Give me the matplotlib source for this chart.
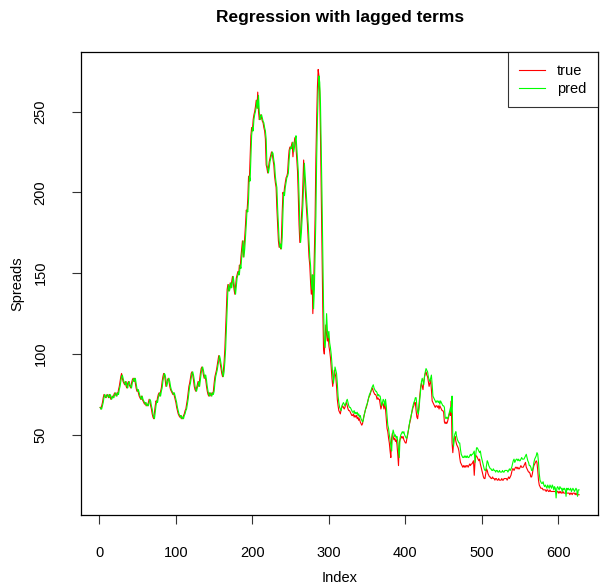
import matplotlib.pyplot as plt
import numpy as np

plt.rcParams['font.family'] = ['Liberation Sans', 'DejaVu Sans']

true = [
    67, 66, 68, 70, 73, 75, 74, 73, 74, 75,
    74, 73, 75, 74, 72, 73, 74, 73, 75, 76,
    75, 74, 76, 75, 78, 80, 83, 86, 88, 85,
    83, 82, 81, 83, 80, 79, 82, 83, 81, 80,
    79, 82, 84, 85, 83, 85, 82, 79, 77, 78,
    76, 74, 73, 72, 74, 72, 71, 70, 69, 70,
    68, 69, 68, 70, 72, 71, 68, 66, 63, 61,
    60, 64, 68, 71, 70, 73, 75, 76, 74, 77,
    79, 83, 86, 88, 87, 84, 80, 82, 84, 85,
    83, 80, 78, 77, 76, 75, 76, 74, 72, 70,
    67, 65, 63, 62, 61, 62, 60, 61, 60, 62,
    63, 65, 66, 69, 72, 76, 80, 82, 85, 88,
    89, 87, 84, 80, 78, 77, 79, 81, 83, 80,
    84, 88, 91, 92, 90, 87, 85, 87, 84, 80,
    77, 75, 74, 76, 75, 74, 76, 75, 77, 82,
    86, 88, 90, 93, 96, 99, 97, 94, 91, 88,
    86, 89, 95, 103, 115, 128, 140, 143, 139, 141,
    144, 141, 145, 148, 144, 140, 137, 142, 147, 149,
    151, 149, 155, 153, 160, 165, 170, 160, 165, 172,
    180, 189, 188, 196, 210, 207, 222, 235, 240, 238,
    245, 248, 250, 253, 257, 252, 262, 250, 245, 247,
    248, 246, 244, 243, 240, 238, 233, 217, 215, 212,
    215, 219, 221, 223, 225, 224, 220, 217, 210, 206,
    203, 190, 180, 170, 166, 168, 165, 172, 188, 200,
    198, 203, 206, 209, 210, 212, 220, 226, 228, 227,
    229, 231, 222, 228, 232, 234, 228, 220, 213, 198,
    180, 169, 175, 184, 192, 205, 220, 210, 202, 195,
    188, 180, 170, 160, 155, 145, 137, 149, 125, 140,
    162, 185, 221, 245, 265, 276, 272, 262, 235, 200,
    160, 129, 103, 100, 110, 118, 112, 108, 113, 105,
    102, 98, 92, 85, 80, 84, 90, 88, 86, 80,
    72, 68, 65, 64, 63, 66, 67, 68, 67, 66,
    67, 69, 70, 68, 66, 65, 65, 64, 63, 62,
    62, 63, 61, 62, 61, 62, 60, 61, 59, 60,
    58, 57, 56, 57, 60, 62, 64, 66, 67, 69,
    71, 73, 74, 75, 77, 78, 79, 77, 76, 75,
    75, 74, 72, 73, 72, 72, 69, 66, 68, 70,
    69, 66, 70, 66, 60, 54, 52, 48, 45, 40,
    36, 48, 51, 49, 47, 48, 46, 47, 44, 38,
    31, 45, 47, 48, 49, 48, 49, 47, 46, 45,
    45, 48, 50, 53, 56, 58, 60, 63, 65, 67,
    68, 70, 70, 65, 61, 60, 64, 70, 75, 80,
    82, 80, 78, 83, 86, 88, 89, 87, 86, 83,
    80, 82, 84, 78, 71, 70, 69, 68, 67, 68,
    68, 67, 68, 66, 68, 67, 66, 65, 65, 64,
    58, 57, 58, 57, 58, 60, 62, 64, 62, 71,
    45, 39, 45, 48, 49, 46, 44, 43, 42, 40,
    36, 33, 32, 31, 30, 31, 30, 31, 30, 31,
    31, 30, 31, 32, 31, 32, 32, 33, 34, 25,
    33, 37, 37, 36, 35, 34, 35, 32, 30, 28,
    26, 24, 23, 23, 26, 29, 28, 26, 25, 24,
    24, 23, 23, 24, 23, 23, 22, 23, 23, 22,
    22, 23, 22, 22, 22, 23, 22, 22, 23, 23,
    23, 23, 22, 23, 24, 23, 24, 25, 27, 29,
    29, 28, 29, 30, 30, 29, 30, 29, 29, 30,
    31, 30, 30, 30, 31, 32, 33, 30, 29, 28,
    27, 27, 26, 24, 24, 26, 29, 31, 32, 33,
    34, 33, 28, 22, 19, 18, 17, 17, 17, 16,
    16, 16, 16, 15, 16, 16, 15, 15, 16, 15,
    15, 15, 15, 15, 15, 15, 14, 15, 15, 14,
    15, 14, 15, 14, 14, 15, 14, 14, 14, 14,
    14, 14, 14, 14, 13, 14, 14, 13, 14, 14,
    14, 13, 14, 13, 13, 13, 13,
]

pred = [
    67, 66, 66, 68, 70, 73, 75, 74, 73, 74,
    75, 74, 73, 75, 74, 72, 73, 74, 73, 75,
    76, 75, 74, 76, 75, 78, 80, 83, 86, 87,
    85, 83, 82, 81, 83, 80, 79, 82, 83, 81,
    80, 79, 82, 84, 85, 83, 85, 82, 79, 77,
    78, 76, 74, 73, 72, 74, 72, 71, 70, 69,
    70, 68, 69, 68, 70, 72, 71, 68, 66, 63,
    61, 60, 64, 68, 71, 70, 73, 75, 76, 74,
    77, 79, 83, 86, 88, 87, 84, 80, 82, 84,
    85, 83, 80, 78, 77, 76, 75, 76, 74, 72,
    70, 67, 65, 63, 62, 61, 62, 60, 61, 60,
    62, 63, 65, 66, 69, 72, 76, 80, 82, 85,
    88, 89, 87, 84, 80, 78, 77, 79, 81, 83,
    80, 84, 88, 91, 92, 90, 87, 85, 87, 84,
    80, 77, 75, 74, 76, 75, 74, 76, 75, 77,
    82, 86, 88, 90, 93, 96, 99, 97, 94, 91,
    88, 86, 89, 95, 103, 115, 128, 140, 143, 139,
    141, 144, 141, 145, 148, 144, 140, 137, 142, 147,
    149, 151, 149, 155, 153, 160, 165, 170, 160, 165,
    172, 180, 189, 188, 196, 210, 207, 222, 235, 240,
    238, 245, 248, 250, 253, 257, 252, 260, 250, 245,
    247, 248, 246, 244, 243, 240, 238, 233, 217, 215,
    212, 215, 219, 221, 223, 225, 224, 220, 217, 210,
    206, 203, 190, 180, 170, 166, 168, 165, 172, 188,
    200, 198, 203, 206, 209, 210, 212, 220, 226, 228,
    227, 229, 231, 225, 228, 232, 235, 228, 220, 213,
    198, 180, 169, 175, 184, 192, 205, 218, 210, 202,
    195, 188, 180, 170, 160, 155, 145, 140, 149, 128,
    140, 162, 185, 220, 245, 262, 272, 268, 255, 228,
    198, 162, 130, 108, 104, 112, 125, 115, 110, 114,
    107, 104, 100, 94, 87, 82, 86, 92, 90, 88,
    82, 74, 70, 67, 66, 65, 68, 69, 70, 69,
    68, 69, 71, 72, 70, 68, 67, 67, 66, 65,
    64, 64, 65, 63, 64, 63, 64, 62, 63, 61,
    62, 60, 59, 58, 59, 62, 64, 66, 68, 69,
    71, 73, 75, 76, 77, 79, 80, 81, 79, 78,
    77, 77, 76, 74, 75, 74, 74, 71, 68, 70,
    72, 71, 68, 72, 68, 62, 56, 54, 50, 47,
    43, 40, 50, 53, 51, 49, 50, 48, 49, 46,
    41, 36, 48, 50, 51, 52, 51, 52, 50, 49,
    48, 48, 51, 53, 56, 59, 61, 63, 66, 68,
    70, 71, 73, 73, 68, 64, 63, 67, 73, 78,
    83, 85, 83, 81, 86, 89, 91, 90, 89, 86,
    84, 83, 85, 87, 81, 74, 73, 72, 71, 70,
    71, 71, 70, 71, 69, 71, 70, 69, 68, 68,
    67, 61, 60, 61, 60, 61, 63, 65, 67, 64,
    74, 48, 43, 49, 51, 52, 49, 47, 46, 45,
    45, 41, 38, 37, 36, 36, 37, 36, 37, 36,
    37, 36, 36, 37, 38, 37, 38, 38, 39, 40,
    33, 38, 42, 42, 41, 40, 39, 40, 37, 35,
    33, 31, 29, 28, 28, 31, 34, 33, 31, 30,
    29, 29, 28, 28, 29, 28, 28, 27, 28, 28,
    27, 27, 28, 27, 27, 27, 28, 27, 27, 28,
    28, 28, 28, 27, 28, 29, 28, 29, 30, 32,
    34, 35, 33, 34, 35, 35, 34, 35, 34, 34,
    35, 36, 35, 35, 35, 36, 37, 38, 36, 34,
    33, 31, 31, 30, 28, 28, 30, 33, 35, 36,
    37, 39, 38, 33, 26, 22, 21, 20, 20, 21,
    19, 18, 19, 18, 17, 19, 18, 17, 19, 18,
    17, 19, 18, 16, 18, 17, 11, 17, 18, 17,
    16, 18, 17, 17, 15, 17, 16, 17, 16, 12,
    17, 16, 17, 16, 16, 17, 15, 16, 17, 16,
    15, 16, 17, 16, 12, 16, 16,
]

x_ticks = [0, 100, 200, 300, 400, 500, 600]
y_ticks = [50, 100, 150, 200, 250]

fig = plt.figure(figsize=(6, 5.88), dpi=100)
ax = fig.add_axes([0.135, 0.124, 0.862, 0.787])

idx_true = np.arange(1, len(true) + 1)
idx_pred = np.arange(1, len(pred) + 1)
ax.plot(idx_true, true, color='#ff0000', lw=0.8, label='true')
ax.plot(idx_pred, pred, color='#00ff00', lw=0.8, label='pred')

# R style padding: 4% on each side of the data range
n = max(len(true), len(pred))
lo = min(min(true), min(pred))
hi = max(max(true), max(pred))
ax.set_xlim(1 - 0.04 * (n - 1), n + 0.04 * (n - 1))
ax.set_ylim(lo - 0.04 * (hi - lo), hi + 0.04 * (hi - lo))

ax.set_xticks(x_ticks)
ax.set_yticks(y_ticks)
ax.tick_params(axis='both', length=6.5, width=0.8, labelsize=10.5, color='#333333')
ax.tick_params(axis='x', pad=16)
ax.tick_params(axis='y', pad=17.5)
for lbl in ax.get_yticklabels():
    lbl.set_rotation(90)
    lbl.set_va('center')
for sp in ax.spines.values():
    sp.set_linewidth(0.9)

ax.set_xlabel('Index', fontsize=10.5, labelpad=8)
ax.set_ylabel('Spreads', fontsize=10.5, labelpad=7)
ax.set_title('Regression with lagged terms', fontsize=12.5, fontweight='bold', pad=22)

leg = ax.legend(loc='upper right', borderaxespad=0, fancybox=False, fontsize=10.5,
                handlelength=1.8, handletextpad=0.8, borderpad=0.8, labelspacing=0.25)
leg.get_frame().set_edgecolor('black')
leg.get_frame().set_linewidth(0.8)

fig.savefig('out.png', dpi=100)
